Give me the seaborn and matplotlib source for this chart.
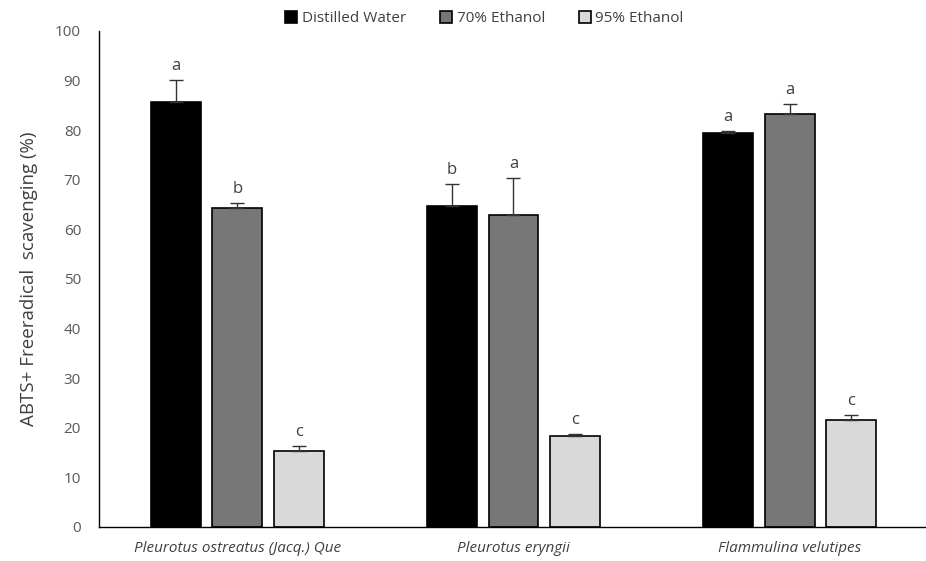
import numpy as np
import pandas as pd
import matplotlib
matplotlib.use("Agg")
import matplotlib.pyplot as plt
import seaborn as sns

# Data
species = ["Pleurotus ostreatus (Jacq.) Que", "Pleurotus eryngii", "Flammulina velutipes"]
solvents = ["Distilled Water", "70% Ethanol", "95% Ethanol"]
water = [85.7, 64.6, 79.4]
ethanol70 = [64.3, 62.9, 83.2]
ethanol95 = [15.2, 18.4, 21.6]
water_err = [4.4, 4.5, 0.5]
ethanol70_err = [1.0, 7.4, 2.1]
ethanol95_err = [1.0, 0.3, 1.0]
letters_water = ["a", "b", "a"]
letters_70 = ["b", "a", "a"]
letters_95 = ["c", "c", "c"]

df = pd.DataFrame({
    "Species": species * 3,
    "Solvent": [s for s in solvents for _ in species],
    "Value": water + ethanol70 + ethanol95,
    "Err": water_err + ethanol70_err + ethanol95_err,
    "Letter": letters_water + letters_70 + letters_95,
})

sns.set_style("white")
plt.rcParams["font.family"] = ["Open Sans", "DejaVu Sans"]

fig = plt.figure(figsize=(9.26, 5.61), dpi=100)
ax = fig.add_axes([0.107, 0.061, 0.895, 0.884])

palette = {"Distilled Water": "#000000", "70% Ethanol": "#777777", "95% Ethanol": "#d9d9d9"}
sns.barplot(data=df, x="Species", y="Value", hue="Solvent", hue_order=solvents,
            order=species, palette=palette, width=0.667, gap=0.19,
            edgecolor="black", linewidth=1.2, errorbar=None, ax=ax)

# one-sided error bars and significance letters
for cont, solv in zip(ax.containers, solvents):
    sub = df[df["Solvent"] == solv].set_index("Species").loc[species]
    xs = [p.get_x() + p.get_width() / 2 for p in cont.patches]
    hs = [p.get_height() for p in cont.patches]
    ax.errorbar(xs, hs, yerr=[np.zeros(len(hs)), sub["Err"].values], fmt="none",
                ecolor="#333333", elinewidth=1, capsize=5, capthick=1)
    for x, h, e, lab in zip(xs, hs, sub["Err"].values, sub["Letter"].values):
        ax.text(x, h + e + 1.2, lab, ha="center", va="bottom", fontsize=12, color="#404040")

ax.set_ylim(0, 100)
ax.set_xlim(-0.5, 2.45)
ax.set_yticks(range(0, 101, 10))
ax.set_xticks([0, 1, 2])
ax.set_xticklabels(species, fontstyle="italic", fontsize=11, color="#404040")
ax.set_xticks([-0.5, 0.5, 1.5, 2.5], minor=True)
ax.tick_params(axis="x", which="major", length=0, pad=10)
ax.tick_params(axis="x", which="minor", length=5, width=1, direction="out", color="black")
ax.tick_params(axis="y", length=5, width=1, direction="out", color="black",
               labelsize=11, labelcolor="#595959", pad=8)
ax.set_xlabel("")
ax.set_ylabel("ABTS+ Freeradical  scavenging (%)", fontsize=13.5, color="#404040", labelpad=12)

for s in ["top", "right"]:
    ax.spines[s].set_visible(False)
for s in ["left", "bottom"]:
    ax.spines[s].set_color("black")
    ax.spines[s].set_linewidth(1)

leg = ax.legend(loc="upper center", bbox_to_anchor=(0.465, 1.068), ncol=3, frameon=False,
                fontsize=11, handlelength=0.8, handleheight=0.8, handletextpad=0.3,
                columnspacing=2.2)
for t in leg.get_texts():
    t.set_color("#404040")

fig.savefig("out.png", dpi=100)
